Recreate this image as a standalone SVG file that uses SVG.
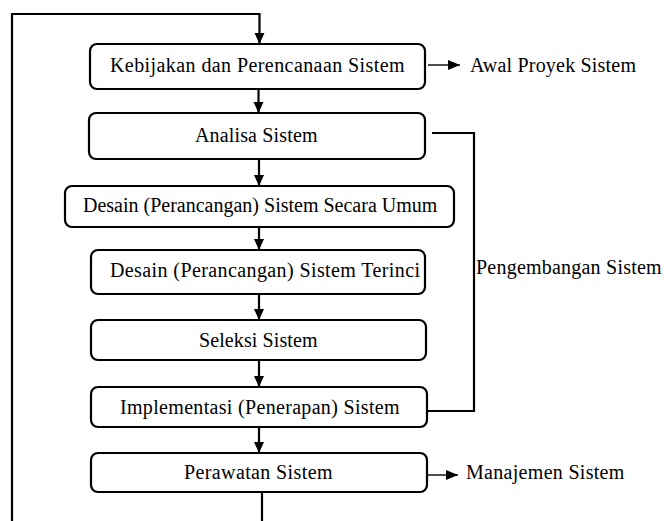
<svg xmlns="http://www.w3.org/2000/svg" width="664" height="521" viewBox="0 0 664 521">
<defs>
<marker id="ah" markerUnits="userSpaceOnUse" markerWidth="12" markerHeight="12" viewBox="0 0 12 12" refX="11" refY="6" orient="auto">
<path d="M0,1 L11,6 L0,11 Z" fill="#000"/>
</marker>
<marker id="ahs" markerUnits="userSpaceOnUse" markerWidth="12" markerHeight="12" viewBox="0 0 12 12" refX="12" refY="6" orient="auto">
<path d="M0,1 L12,6 L0,11 Z" fill="#000"/>
</marker>
</defs>
<style>
.box{fill:#fff;stroke:#000;stroke-width:2.2}
</style>
<rect width="664" height="521" fill="#fff"/>
<g id="connectors" fill="none" stroke="#000" stroke-width="2.2">
<path d="M12,521 V14 H259.5 V44" marker-end="url(#ah)"/>
<path d="M258.5,89 V113" marker-end="url(#ah)"/>
<path d="M259,159 V186" marker-end="url(#ah)"/>
<path d="M259,227 V250" marker-end="url(#ah)"/>
<path d="M259,294 V320" marker-end="url(#ah)"/>
<path d="M259,360 V387" marker-end="url(#ah)"/>
<path d="M259,427 V453" marker-end="url(#ah)"/>
<path d="M262,492 V521"/>
<path d="M432,133 H474 V411 H427"/>
<path stroke-width="1.4" d="M428,65 H460" marker-end="url(#ahs)"/>
<path stroke-width="1.4" d="M428,475 H458" marker-end="url(#ahs)"/>
</g>
<g font-family="Liberation Serif, Times New Roman, serif" font-size="20" fill="#000">
<g id="n1"><rect class="box" x="90" y="44" width="335" height="45" rx="7"/><text x="110" y="72" letter-spacing="0.42">Kebijakan dan Perencanaan Sistem</text></g>
<g id="n2"><rect class="box" x="89" y="113" width="336" height="46" rx="7"/><text x="195" y="142" letter-spacing="0.15">Analisa Sistem</text></g>
<g id="n3"><rect class="box" x="65" y="186" width="389" height="41" rx="7"/><text x="83" y="212">Desain (Perancangan) Sistem Secara Umum</text></g>
<g id="n4"><rect class="box" x="91" y="250" width="334" height="44" rx="7"/><text x="110" y="277" letter-spacing="0.4">Desain (Perancangan) Sistem Terinci</text></g>
<g id="n5"><rect class="box" x="91" y="320" width="335" height="40" rx="7"/><text x="199" y="347" letter-spacing="0.1">Seleksi Sistem</text></g>
<g id="n6"><rect class="box" x="91" y="387" width="336" height="40" rx="7"/><text x="120" y="414" letter-spacing="0.32">Implementasi (Penerapan) Sistem</text></g>
<g id="n7"><rect class="box" x="91" y="453" width="336" height="39" rx="7"/><text x="184" y="479" letter-spacing="0.38">Perawatan Sistem</text></g>
<g id="l1"><text x="470" y="72" letter-spacing="0.2">Awal Proyek Sistem</text></g>
<g id="l2"><text x="466" y="479" letter-spacing="0.3">Manajemen Sistem</text></g>
<g id="l3"><text x="476" y="274" letter-spacing="0.22">Pengembangan Sistem</text></g>
</g>
</svg>
